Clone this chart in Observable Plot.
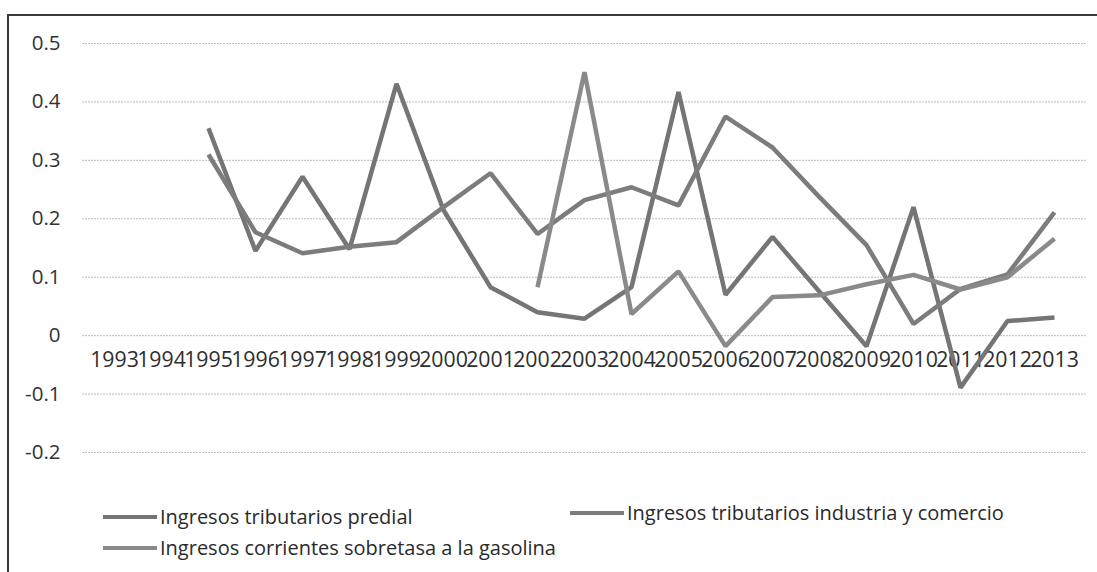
<!DOCTYPE html>
<html>
<head>
<meta charset="utf-8">
<script src="https://cdn.jsdelivr.net/npm/d3@7"></script>
<script src="https://cdn.jsdelivr.net/npm/@observablehq/plot@0.6"></script>
<style>
  html, body { margin: 0; padding: 0; background: #fff; }
  body { width: 1097px; height: 572px; position: relative; overflow: hidden; font-family: "Open Sans", sans-serif; }
  #frame { position: absolute; left: 7px; top: 14px; width: 1200px; height: 700px; border-left: 2px solid #3a3a3a; border-top: 2px solid #3a3a3a; box-sizing: border-box; }
  #chart { position: absolute; left: 0; top: 0; }
  .leg { position: absolute; display: flex; align-items: center; font-size: 20px; color: #2a2a2a; white-space: nowrap; }
  .key { display: inline-block; width: 54px; height: 4px; margin-right: 3px; }
</style>
</head>
<body>
<div id="frame"></div>
<div id="chart"></div>
<div id="legend"></div>
<script>
const years = ["1993","1994","1995","1996","1997","1998","1999","2000","2001","2002","2003","2004","2005","2006","2007","2008","2009","2010","2011","2012","2013"];
const seriesNames = ["Ingresos tributarios predial", "Ingresos tributarios industria y comercio", "Ingresos corrientes sobretasa a la gasolina"];
const predial   = [null, null, 0.355, 0.145, 0.272, 0.148, 0.431, 0.215, 0.083, 0.040, 0.029, 0.083, 0.417, 0.070, 0.169, 0.075, -0.018, 0.220, -0.089, 0.025, 0.031];
const industria = [null, null, 0.310, 0.177, 0.141, 0.152, 0.160, 0.220, 0.278, 0.174, 0.232, 0.254, 0.223, 0.375, 0.322, 0.237, 0.155, 0.020, 0.080, 0.105, 0.211];
const gasolina  = [null, null, null, null, null, null, null, null, null, 0.083, 0.451, 0.037, 0.110, -0.018, 0.066, 0.069, 0.088, 0.104, 0.079, 0.100, 0.166];
const yTicks = [-0.2, -0.1, 0, 0.1, 0.2, 0.3, 0.4, 0.5];
const colors = ["#757575", "#7c7c7c", "#8a8a8a"];

const allSeries = [predial, industria, gasolina];
const rows = [];
allSeries.forEach((vals, si) => {
  vals.forEach((v, i) => rows.push({serie: seriesNames[si], year: years[i], value: v}));
});

const chart = Plot.plot({
  width: 1097,
  height: 490,
  marginLeft: 82,
  marginRight: 11,
  marginTop: 43,
  marginBottom: 38,
  style: {fontFamily: "'Open Sans', sans-serif", background: "transparent"},
  x: {type: "point", domain: years, padding: 0.5, axis: null},
  y: {domain: [-0.2, 0.5], axis: null},
  color: {domain: seriesNames, range: colors},
  marks: [
    Plot.gridY(yTicks, {stroke: "#bdbdbd", strokeOpacity: 1, strokeWidth: 1, strokeDasharray: "2,1"}),
    Plot.axisY(yTicks, {tickSize: 0, tickPadding: 22, fontSize: 20.5, fill: "#333", tickFormat: d => String(d), label: null}),
    Plot.text(years, {x: d => d, y: 0, dy: 25, text: d => d, fontSize: 21.3, fill: "#2e2e2e"}),
    Plot.line(rows, {x: "year", y: "value", z: "serie", stroke: "serie", strokeWidth: 4.5, strokeLinejoin: "miter", strokeLinecap: "butt", defined: d => d.value != null})
  ]
});
document.getElementById("chart").appendChild(chart);

const legendPos = [
  {left: 103, top: 503},
  {left: 570, top: 499},
  {left: 103, top: 534}
];
const legend = document.getElementById("legend");
seriesNames.forEach((name, i) => {
  const el = document.createElement("div");
  el.className = "leg";
  el.style.left = legendPos[i].left + "px";
  el.style.top = legendPos[i].top + "px";
  const k = document.createElement("span");
  k.className = "key";
  k.style.background = colors[i];
  el.appendChild(k);
  el.appendChild(document.createTextNode(name));
  legend.appendChild(el);
});
</script>
</body>
</html>
